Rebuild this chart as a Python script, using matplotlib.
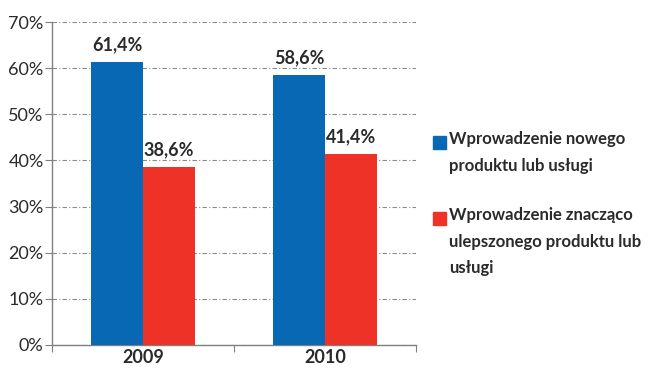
import numpy as np
import matplotlib.pyplot as plt
from matplotlib.patches import Rectangle

years = ['2009', '2010']
new_product = [61.4, 58.6]
improved_product = [38.6, 41.4]
series_names = ['Wprowadzenie nowego\nproduktu lub usługi',
                'Wprowadzenie znacząco\nulepszonego produktu lub\nusługi']
yticks = [0, 10, 20, 30, 40, 50, 60, 70]

blue = '#0868B4'
red = '#EE3227'
text_col = '#2a2a2a'

plt.rcParams['font.family'] = ['Lato', 'DejaVu Sans']

fig = plt.figure(figsize=(6.5, 3.7), dpi=100)
ax = fig.add_axes([0.08, 0.068, 0.56, 0.872])

x = np.arange(len(years))
w = 0.286
b1 = ax.bar(x - w / 2, new_product, w, color=blue, zorder=3)
b2 = ax.bar(x + w / 2, improved_product, w, color=red, zorder=3)

def pct(v):
    return f'{v:.1f}'.replace('.', ',') + '%'

for bars, vals in [(b1, new_product), (b2, improved_product)]:
    for rect, v in zip(bars, vals):
        ax.annotate(pct(v), (rect.get_x() + rect.get_width() / 2, v),
                    xytext=(0, 6), textcoords='offset points',
                    ha='center', va='bottom', fontsize=13,
                    fontweight='bold', color=text_col)

ax.set_xlim(-0.5, 1.5)
ax.set_ylim(0, 70)
ax.set_yticks(yticks)
ax.set_yticklabels([f'{t}%' for t in yticks], fontsize=13, color=text_col)
ax.set_xticks([-0.5, 0.5, 1.5])
ax.set_xticklabels([])
ax.set_xticks(x, minor=True)
ax.set_xticklabels(years, minor=True, fontsize=13, fontweight='bold',
                   color=text_col)
ax.tick_params(axis='x', which='minor', length=0, pad=3)
ax.tick_params(axis='x', which='major', length=5, color='#808080',
               direction='out')
ax.tick_params(axis='y', length=5, color='#808080', direction='out', pad=1)

ax.yaxis.grid(True, color='#8a8a8a', linestyle=(0, (4, 2, 1, 2)),
              linewidth=0.8, zorder=0)
for s in ['top', 'right']:
    ax.spines[s].set_visible(False)
for s in ['left', 'bottom']:
    ax.spines[s].set_color('#808080')
    ax.spines[s].set_linewidth(1.0)

# legend drawn by hand so the swatch sits on the first line of each label
legend_rows = [(series_names[0], blue, 136), (series_names[1], red, 212)]
for label, col, ypx in legend_rows:
    y0 = 1 - (ypx + 13) / 370
    fig.patches.append(Rectangle((433 / 650, y0), 13 / 650, 13 / 370,
                                 transform=fig.transFigure, color=col))
    fig.text(449 / 650, 1 - (ypx - 5) / 370, label, ha='left', va='top',
             fontsize=12, fontweight='bold', color=text_col, linespacing=1.82)

fig.savefig('out.png', dpi=100)
